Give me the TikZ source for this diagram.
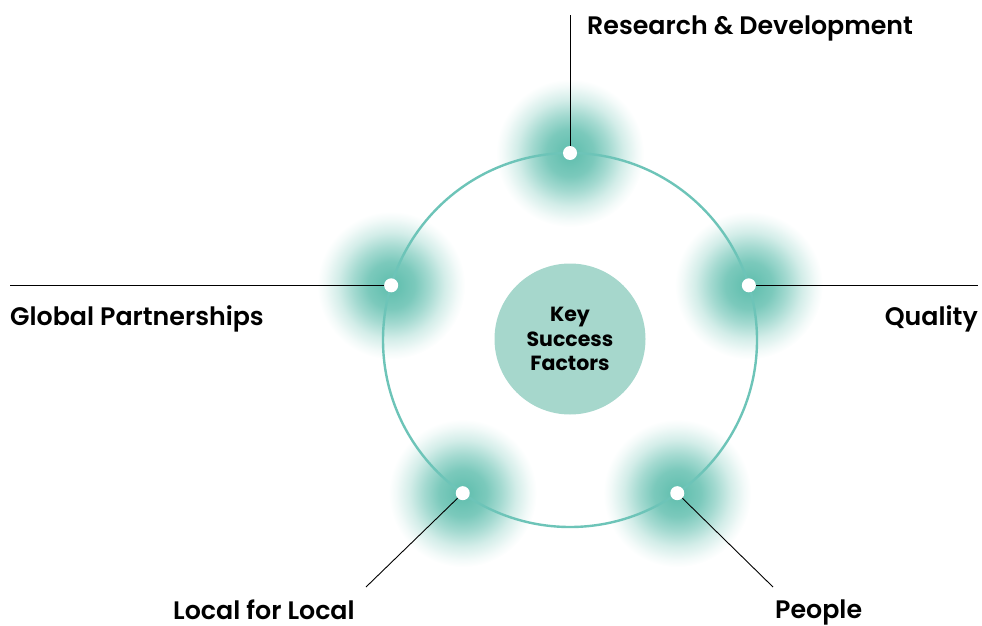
\documentclass[tikz,border=0pt]{standalone}
\usepackage{fontspec}
\usetikzlibrary{calc}
\newfontfamily\lblfont{Poppins SemiBold}
\newfontfamily\hubfont{Poppins Bold}
\definecolor{ringc}{RGB}{109,196,184}
\definecolor{hubc}{RGB}{166,215,204}
\definecolor{glowc}{RGB}{98,191,175}
\colorlet{glowA}{glowc!96!white}
\colorlet{glowB}{glowc!84!white}
\colorlet{glowC}{glowc!58!white}
\colorlet{glowD}{glowc!28!white}
\colorlet{glowE}{glowc!8!white}
% radial glow: the path's edge sits at 25bp
\pgfdeclareradialshading{glow}{\pgfpoint{0bp}{0bp}}{%
  color(0bp)=(glowc); color(3bp)=(glowA); color(8bp)=(glowB);
  color(13bp)=(glowC); color(18bp)=(glowD); color(22.5bp)=(glowE);
  color(25bp)=(white); color(50bp)=(white)}
\tikzset{
  halo/.style={shading=glow},
  ring/.style={draw=ringc, line width=2.4pt},
  knob/.style={circle, fill=white, inner sep=0pt, minimum size=14pt},
  lead/.style={draw=black, line width=0.9pt},
  label/.style={inner sep=0pt, font=\lblfont\fontsize{25.3}{30}\selectfont, text=black},
  hub/.style={circle, fill=hubc, minimum size=151pt, inner sep=0pt,
    align=center, font=\hubfont\fontsize{20.5}{24.5}\selectfont, text=black}
}
\begin{document}
\begin{tikzpicture}[x=1pt, y=-1pt]
  \useasboundingbox (0,0) rectangle (982,626);
  \coordinate (c) at (570,340);
  % points on the ring (y axis points down, so angles run clockwise)
  \coordinate (pt) at ($(c)+(-90:187)$);
  \coordinate (pr) at ($(c)+(-17:187)$);
  \coordinate (pl) at ($(c)+(-163:187)$);
  \coordinate (pbl) at ($(c)+(125:187)$);
  \coordinate (pbr) at ($(c)+(55:187)$);
  % soft glows
  \foreach \p in {pt,pr,pl,pbl,pbr}
    \shade[halo] (\p) circle (74);
  % ring and hub
  \draw[ring] (c) circle (187);
  \node[hub] (h) at (570,339) {Key\\Success\\Factors};
  % leader ends
  \coordinate (et) at (570,15);
  \coordinate (er) at (978,287);
  \coordinate (el) at (10,287);
  \coordinate (ebl) at (366,587);
  \coordinate (ebr) at (773,587);
  \draw[lead] (pt) -- (et);
  \draw[lead] (pr) -- (pr -| er);
  \draw[lead] (pl) -- (pl -| el);
  \draw[lead] (pbl) -- (ebl);
  \draw[lead] (pbr) -- (ebr);
  % dots
  \foreach \p in {pt,pr,pl,pbl,pbr}
    \node[knob] (k\p) at (\p) {};
  % labels
  \node[label, anchor=base west] (lt) at (587,35) {Research \& Development};
  \node[label, anchor=base west] (ll) at (10,325) {Global Partnerships};
  \node[label, anchor=base east] (lr) at (978,325) {Quality};
  \node[label, anchor=base west] (lbl) at (173,619) {Local for Local};
  \node[label, anchor=base west] (lbr) at (775,618) {People};
\end{tikzpicture}
\end{document}
